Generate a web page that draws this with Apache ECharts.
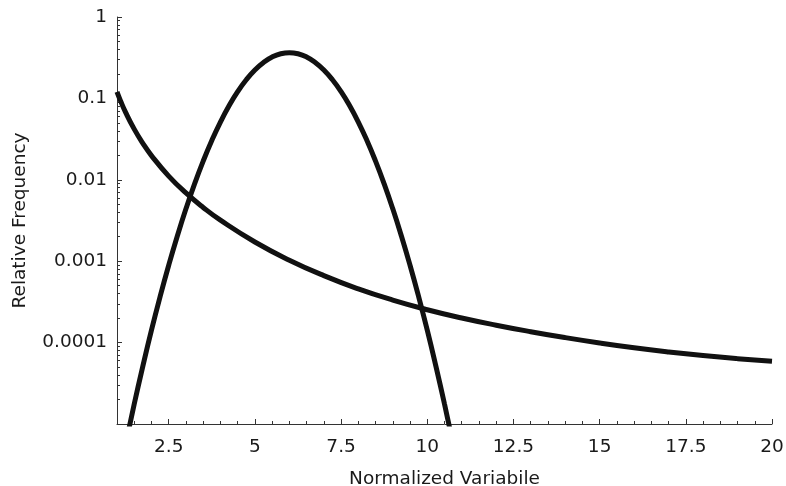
<!DOCTYPE html>
<html><head><meta charset="utf-8">
<script src="https://cdn.jsdelivr.net/npm/echarts@6/dist/echarts.min.js"></script>
<style>html,body{margin:0;padding:0;background:#fff}#c{width:786px;height:486px}</style>
</head><body><div id="c"></div>
<script>
// ---- data ----
const xTickValues = [2.5, 5, 7.5, 10, 12.5, 15, 17.5, 20];
const xMinorTickValues = [1.5, 2, 3, 3.5, 4, 4.5, 5.5, 6, 6.5, 7, 8, 8.5, 9, 9.5, 10.5, 11, 11.5, 12, 13, 13.5, 14, 14.5, 15.5, 16, 16.5, 17, 18, 18.5, 19, 19.5];
const yTickValues = [0.00001, 0.0001, 0.001, 0.01, 0.1, 1];
const yTickLabels = ['', '0.0001', '0.001', '0.01', '0.1', '1'];
const yMinorTickValues = [
  2e-5, 3e-5, 4e-5, 5e-5, 6e-5, 7e-5, 8e-5, 9e-5,
  2e-4, 3e-4, 4e-4, 5e-4, 6e-4, 7e-4, 8e-4, 9e-4,
  0.002, 0.003, 0.004, 0.005, 0.006, 0.007, 0.008, 0.009,
  0.02, 0.03, 0.04, 0.05, 0.06, 0.07, 0.08, 0.09,
  0.2, 0.3, 0.4, 0.5, 0.6, 0.7, 0.8, 0.9
];
// decreasing (power-law like) curve
const powerX = [1, 1.1, 1.25, 1.5, 1.75, 2, 2.5, 3, 3.5, 4, 5, 6, 7, 8, 9, 10, 11, 12, 13, 14, 15, 16, 17, 18, 19, 20];
const powerY = [0.1202, 0.09385, 0.06732, 0.04191, 0.02808, 0.01984, 0.0111, 0.006889, 0.004572, 0.003189, 0.001722, 0.00103, 0.000665, 0.0004575, 0.000333, 0.0002535, 0.0002007, 0.0001636, 0.0001361, 0.0001151, 0.00009892, 0.0000864, 0.00007677, 0.00006929, 0.00006353, 0.00005911];
// bell-shaped curve
const bellX = [1.25, 1.5, 1.75, 2, 2.25, 2.5, 2.75, 3, 3.25, 3.5, 3.75, 4, 4.25, 4.5, 4.75, 5, 5.25, 5.5, 5.75, 6,
               6.25, 6.5, 6.75, 7, 7.25, 7.5, 7.75, 8, 8.25, 8.5, 8.75, 9, 9.25, 9.5, 9.75, 10, 10.25, 10.5, 10.75];
const bellY = [5.65e-6, 1.76e-5, 5.14e-5, 1.42e-4, 3.66e-4, 8.91e-4, 2.04e-3, 4.40e-3, 8.91e-3, 0.01697, 0.0304, 0.0512, 0.0811, 0.1209, 0.1694, 0.2233, 0.2767, 0.3226, 0.3537, 0.3648,
               0.3537, 0.3226, 0.2767, 0.2233, 0.1694, 0.1209, 0.0811, 0.0512, 0.0304, 0.01697, 8.91e-3, 4.40e-3, 2.04e-3, 8.91e-4, 3.66e-4, 1.42e-4, 5.14e-5, 1.76e-5, 5.65e-6];
const xTitle = 'Normalized Variabile';
const yTitle = 'Relative Frequency';

// ---- chart ----
const FONT = '"DejaVu Sans", "Liberation Sans", Arial, sans-serif';
const FS = 18.5;
const TXT = '#1a1a1a';
const AX = '#333';
const chart = echarts.init(document.getElementById('c'), null, {renderer: 'canvas'});
const zip = (xs, ys) => xs.map((x, i) => [x, ys[i]]);
chart.setOption({
  animation: false,
  backgroundColor: '#fff',
  textStyle: {fontFamily: FONT},
  grid: {left: 117, right: 14, top: 17, bottom: 62, containLabel: false, outerBoundsMode: 'none'},
  xAxis: [{
    type: 'value', min: 1, max: 20, position: 'bottom',
    name: xTitle, nameLocation: 'middle', nameGap: 46,
    nameTextStyle: {fontSize: FS, color: TXT, fontFamily: FONT},
    axisLine: {show: true, onZero: false, lineStyle: {color: AX, width: 1}},
    axisTick: {show: true, inside: true, length: 5, customValues: xTickValues, lineStyle: {color: AX}},
    axisLabel: {show: true, margin: 14, fontSize: FS, color: TXT, fontFamily: FONT, customValues: xTickValues,
      formatter: v => String(v)},
    splitLine: {show: false}
  }, {
    type: 'value', min: 1, max: 20, position: 'bottom', offset: 0,
    axisLine: {show: false},
    axisTick: {show: true, inside: true, length: 3, customValues: xMinorTickValues, lineStyle: {color: AX}},
    axisLabel: {show: false},
    splitLine: {show: false}
  }],
  yAxis: [{
    type: 'log', logBase: 10, min: 0.00001, max: 1, position: 'left',
    name: yTitle, nameLocation: 'middle', nameGap: 87,
    nameTextStyle: {fontSize: FS, color: TXT, fontFamily: FONT},
    axisLine: {show: true, onZero: false, lineStyle: {color: AX, width: 1}},
    axisTick: {show: true, inside: true, length: 5, customValues: yTickValues, lineStyle: {color: AX}},
    axisLabel: {show: true, margin: 10, fontSize: FS, color: TXT, fontFamily: FONT, customValues: yTickValues,
      formatter: v => {
        let best = 0, bd = Infinity;
        yTickValues.forEach((t, i) => { const d = Math.abs(Math.log10(t) - Math.log10(v)); if (d < bd) { bd = d; best = i; } });
        return yTickLabels[best];
      }},
    splitLine: {show: false}
  }, {
    type: 'log', logBase: 10, min: 0.00001, max: 1, position: 'left', offset: 0,
    axisLine: {show: false},
    axisTick: {show: true, inside: true, length: 3, customValues: yMinorTickValues, lineStyle: {color: AX}},
    axisLabel: {show: false},
    splitLine: {show: false}
  }],
  series: [{
    type: 'line', xAxisIndex: 0, yAxisIndex: 0, data: zip(powerX, powerY),
    showSymbol: false, symbol: 'none', smooth: true, clip: true,
    lineStyle: {color: '#111', width: 5}
  }, {
    type: 'line', xAxisIndex: 0, yAxisIndex: 0, data: zip(bellX, bellY),
    showSymbol: false, symbol: 'none', smooth: true, clip: true,
    lineStyle: {color: '#111', width: 5}
  }]
});
</script>
</body></html>
